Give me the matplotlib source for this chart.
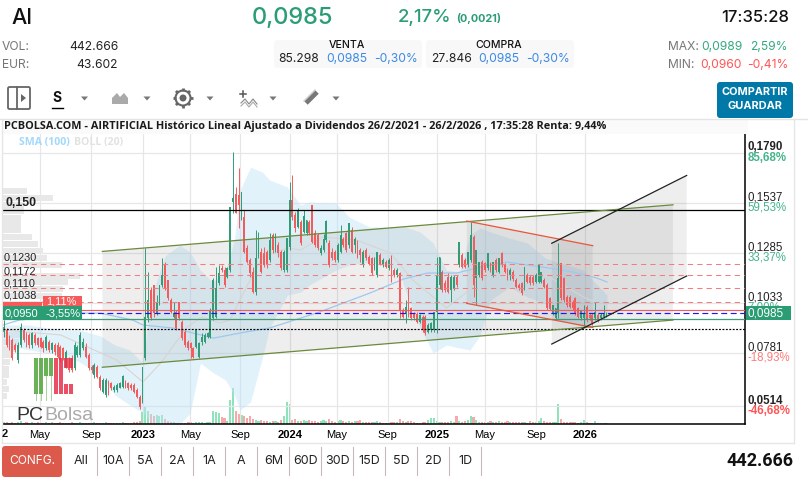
import numpy as np
import matplotlib
matplotlib.use("Agg")
import matplotlib.pyplot as plt
from matplotlib.patches import FancyBboxPatch, Rectangle, Polygon, Circle
from matplotlib.transforms import ScaledTranslation

# weekly candles, Jan 2022 -> Feb 2026
opens = [
    .0888,.0897,.0863,.0846,.0821,.0745,.0821,.0897,.0880,.0871,
    .0821,.0871,.0855,.0855,.0838,.0804,.0838,.0796,.0821,.0821,
    .0813,.0804,.0712,.0754,.0754,.0703,.0771,.0771,.0804,.0813,
    .0771,.0712,.0670,.0712,.0661,.0586,.0569,.0636,.0628,.0594,
    .0594,.0607,.0611,.0636,.0628,.0619,.0619,.0594,.0561,.0535,
    .0754,.0955,.1098,.1123,.0981,.1031,.1123,.1224,.1149,.1048,
    .0964,.0989,.1039,.0939,.0888,.0838,.0829,.0804,.0813,.0762,
    .0838,.0838,.0863,.0863,.0955,.0964,.1132,.1207,.1199,.1165,
    .1199,.1543,.1585,.1577,.1476,.1468,.1308,.1249,.1191,.1090,
    .1266,.1291,.1283,.1291,.1249,.1375,.1300,.1325,.1291,.1199,
    .1199,.1317,.1552,.1476,.1417,
    .1442,.1392,.1384,.1442,.1526,.1384,.1375,.1283,.1300,.1350,
    .1333,.1291,.1291,.1249,.1291,.1358,.1384,.1325,.1400,.1325,
    .1333,.1300,.1224,.1300,.1266,.1258,.1207,.1174,.1274,.1224,
    .1241,.1207,.1269,.1199,.1174,.1182,.0997,.0980,.1022,.1006,
    .0980,.0980,.0938,.0964,.0964,.0888,.0896,.0896,.0989,.1123,
    .1190,.1132,.1165,.1098,.1106,.1162,
    .1224,.1275,.1249,.1224,.1249,.1367,.1157,.1174,.1241,.1233,
    .1207,.1233,.1174,.1249,.1191,.1283,.1224,.1199,.1174,.1191,
    .1149,.1123,.1132,.1107,.1174,.1165,.1165,.1140,.1140,.1140,
    .1149,.1123,.1056,.0981,.0955,.0981,.1233,.1157,.1065,.1065,
    .1039,.1056,.1006,.0955,.0955,.1014,.0972,.0972,.0955,.0972,
    .0955,.0964,.0972,
]
highs = [
    .0947,.0905,.0871,.0855,.0829,.0838,.0930,.0905,.0888,.0880,
    .0888,.0880,.0863,.0863,.0846,.0871,.0846,.0838,.0829,.0838,
    .0821,.0813,.0796,.0762,.0771,.0838,.0821,.0888,.0855,.0829,
    .0779,.0720,.0729,.0720,.0670,.0653,.0653,.0645,.0636,.0619,
    .0628,.0636,.0670,.0645,.0636,.0628,.0628,.0603,.0569,.0712,
    .1308,.1191,.1115,.1123,.1073,.1123,.1258,.1241,.1149,.1056,
    .1039,.0998,.1039,.0947,.0897,.0846,.0838,.0813,.0897,.0838,
    .0880,.0880,.0888,.1006,.1157,.1216,.1224,.1224,.1216,.1216,
    .1518,.1795,.1619,.1715,.1594,.1501,.1325,.1258,.1216,.1401,
    .1392,.1308,.1317,.1300,.1384,.1384,.1384,.1342,.1300,.1300,
    .1359,.1644,.1678,.1493,.1510,
    .1450,.1501,.1451,.1450,.1526,.1400,.1384,.1325,.1383,.1450,
    .1350,.1308,.1300,.1333,.1426,.1367,.1392,.1434,.1417,.1367,
    .1350,.1308,.1300,.1308,.1274,.1266,.1266,.1291,.1283,.1258,
    .1249,.1258,.1274,.1207,.1207,.1190,.1006,.1048,.1115,.1014,
    .0989,.0989,.0980,.0972,.0972,.0930,.0938,.0989,.1266,.1266,
    .1199,.1148,.1182,.1174,.1174,.1174,
    .1342,.1283,.1258,.1291,.1443,.1375,.1300,.1241,.1249,.1241,
    .1283,.1241,.1241,.1258,.1258,.1291,.1233,.1207,.1207,.1199,
    .1157,.1132,.1140,.1216,.1182,.1174,.1174,.1182,.1224,.1191,
    .1157,.1132,.1065,.1023,.1006,.1333,.1233,.1165,.1073,.1073,
    .1048,.1065,.1014,.0997,.1023,.1023,.0981,.0981,.1039,.0981,
    .0981,.1023,.0989,
]
lows = [
    .0863,.0813,.0796,.0745,.0787,.0729,.0813,.0838,.0813,.0804,
    .0804,.0821,.0813,.0804,.0787,.0796,.0787,.0779,.0771,.0754,
    .0737,.0745,.0703,.0687,.0687,.0695,.0762,.0762,.0796,.0754,
    .0695,.0678,.0653,.0653,.0594,.0578,.0561,.0569,.0594,.0586,
    .0586,.0603,.0603,.0603,.0594,.0594,.0578,.0552,.0501,.0527,
    .0745,.0939,.0947,.0964,.0972,.1023,.1115,.1098,.1048,.0981,
    .0955,.0897,.0947,.0846,.0813,.0796,.0754,.0754,.0804,.0754,
    .0821,.0829,.0855,.0855,.0947,.0955,.1123,.1191,.1115,.1157,
    .1191,.1485,.1485,.1409,.1451,.1283,.1233,.1165,.1082,.1073,
    .1258,.1182,.1216,.1207,.1241,.1283,.1291,.1266,.1199,.1191,
    .1191,.1300,.1451,.1392,.1409,
    .1325,.1384,.1375,.1375,.1333,.1317,.1300,.1274,.1291,.1342,
    .1216,.1249,.1241,.1241,.1283,.1317,.1291,.1308,.1283,.1283,
    .1258,.1241,.1216,.1249,.1224,.1174,.1199,.1165,.1224,.1216,
    .1207,.1199,.1140,.1165,.1165,.0955,.0955,.0930,.0964,.0947,
    .0947,.0930,.0930,.0888,.0872,.0880,.0888,.0888,.0880,.1106,
    .1090,.1090,.1082,.1039,.1098,.1115,
    .1216,.1208,.1208,.1216,.1241,.1065,.1023,.1166,.1149,.1191,
    .1199,.1191,.1166,.1191,.1183,.1216,.1183,.1149,.1149,.1145,
    .1107,.1098,.1073,.1098,.1132,.1123,.1123,.1132,.1132,.1132,
    .1107,.0997,.0997,.0972,.0947,.0955,.1048,.1039,.1014,.1006,
    .0997,.0972,.0955,.0947,.0905,.0939,.0947,.0922,.0947,.0939,
    .0947,.0955,.0964,
]
closes = [
    .0913,.0821,.0804,.0754,.0796,.0821,.0913,.0846,.0821,.0821,
    .0880,.0829,.0821,.0813,.0804,.0863,.0796,.0829,.0787,.0762,
    .0745,.0754,.0787,.0695,.0695,.0821,.0813,.0871,.0838,.0762,
    .0703,.0695,.0720,.0661,.0603,.0645,.0645,.0577,.0603,.0611,
    .0619,.0628,.0665,.0611,.0603,.0603,.0586,.0561,.0510,.0712,
    .0964,.1048,.0955,.0981,.1039,.1123,.1174,.1107,.1056,.0989,
    .0981,.0905,.0955,.0855,.0821,.0804,.0804,.0762,.0897,.0829,
    .0863,.0871,.0880,.0998,.1149,.1107,.1182,.1199,.1123,.1207,
    .1518,.1560,.1485,.1527,.1594,.1291,.1241,.1182,.1090,.1258,
    .1317,.1191,.1224,.1224,.1350,.1300,.1333,.1283,.1207,.1291,
    .1359,.1552,.1468,.1409,.1496,
    .1333,.1470,.1451,.1384,.1342,.1325,.1308,.1308,.1358,.1445,
    .1224,.1258,.1249,.1325,.1375,.1325,.1300,.1434,.1291,.1358,
    .1266,.1274,.1291,.1258,.1232,.1182,.1258,.1291,.1232,.1249,
    .1216,.1249,.1182,.1174,.1199,.0997,.0963,.1014,.0972,.0955,
    .0955,.0938,.0972,.0896,.0880,.0922,.0930,.0989,.1174,.1266,
    .1098,.1098,.1090,.1165,.1165,.1123,
    .1342,.1216,.1216,.1291,.1375,.1123,.1300,.1241,.1157,.1199,
    .1283,.1199,.1241,.1199,.1258,.1224,.1191,.1157,.1199,.1152,
    .1115,.1107,.1081,.1216,.1140,.1132,.1132,.1174,.1224,.1191,
    .1115,.1006,.1001,.1023,.1006,.1157,.1056,.1048,.1023,.1014,
    .1006,.0981,.0964,.0997,.0980,.0947,.0955,.0930,.0989,.0947,
    .0972,.0981,.0985,
]
volumes = [
    2,2,1,2,1,2,3,1,2,1, 2,1,2,1,1,2,1,2,1,1,
    2,1,1,1,2,1,1,2,1,1, 1,1,2,1,1,1,2,1,1,1,
    1,1,2,1,1,1,2,2,3,12,
    18,13,10,8,9,8,9,5,3,2, 2,1,1,1,1,2,2,1,2,2,
    2,1,2,2,13,12,11,7,6,3, 24,36,13,10,9,8,6,8,5,4,
    3,4,3,3,2,3,3,2,4,8, 22,20,4,5,3,3,4,3,4,3,
    3,2,3,4,3,5,3,2,3,4, 3,2,3,2,3,3,4,2,2,2,
    2,2,3,2,1,1,1,2,2,2, 5,3,2,3,3,2,1,1,2,2,
    4,6,6,3,2,2,2,2,3,2, 8,3,2,3,4,8,7,4,2,2,
    2,2,3,2,2,3,2,2,3,2, 2,2,2,2,2,1,3,2,2,3,
    6,3,2,2,2,2,20,5,2,2, 2,2,2,1,2,4,2,1,1,3,
    1,1,1,1,
]

# bollinger (20) and sma (100), sampled off the chart
band_years = [2022.05,2022.23,2022.44,2022.57,2022.71,2022.81,2022.91,2022.99,2023.02,2023.06,
              2023.15,2023.25,2023.32,2023.39,2023.47,2023.56,2023.62,2023.66,2023.73,2023.81,
              2023.86,2023.98,2024.07,2024.13,2024.31,2024.40,2024.54,2024.74,2024.78,2024.88,
              2024.97,2025.06,2025.15,2025.22,2025.29,2025.36,2025.49,2025.61,2025.73,2025.81,
              2025.99,2026.15]
band_upper = [.0922,.0922,.0897,.0897,.0867,.0821,.0796,.0736,.0846,.1073,
              .1270,.1325,.1290,.1199,.1139,.1189,.1350,.1602,.1718,.1693,
              .1653,.1618,.1527,.1542,.1537,.1466,.1416,.1416,.1416,.1391,
              .1335,.1199,.1189,.1376,.1411,.1391,.1360,.1335,.1260,.1240,
              .1199,.1073]
band_lower = [.0821,.0796,.0771,.0736,.0670,.0569,.0519,.0484,.0468,.0423,
              .0423,.0423,.0478,.0730,.0685,.0645,.0569,.0494,.0534,.0756,
              .0907,.1073,.1088,.1124,.1199,.1224,.1240,.1199,.1098,.0912,
              .0781,.0821,.0806,.0796,.0872,.1048,.1114,.1063,.1033,.0947,
              .0912,.0962]
sma_years = [2022.05,2022.16,2022.30,2022.48,2022.71,2022.93,2023.00,2023.20,2023.48,2023.66,
             2023.86,2024.20,2024.54,2024.77,2024.93,2025.13,2025.29,2025.47,2025.61,2025.76,
             2025.92,2026.08,2026.15]
sma_values = [.0922,.0947,.0957,.0982,.0982,.0947,.0922,.0907,.0856,.0882,
              .0907,.0988,.1083,.1154,.1184,.1184,.1214,.1240,.1224,.1209,
              .1189,.1159,.1139]
mid_years = [2022.05,2022.44,2022.82,2023.00,2023.12,2023.20,2023.30,2023.40,2023.52,2023.59,
             2023.71,2023.81,2023.98,2024.07,2024.22,2024.45,2024.68,2024.83,2025.06,2025.19,
             2025.27,2025.38,2025.54,2025.76,2025.99,2026.15]
mid_values = [.0897,.0872,.0746,.0635,.0730,.0811,.0912,.0962,.0932,.0947,
              .1124,.1265,.1310,.1300,.1366,.1350,.1285,.1149,.1008,.1083,
              .1164,.1199,.1224,.1164,.1063,.1013]

# volume at price, left side of the chart
hist_prices = [.1598,.1563,.1528,.1495,.1460,.1430,.1400,.1365,.1330,.1295,.1260,.1225,.1170,.1140,.1105,
               .1070,.1030,.0870,.0835,.0800,.0770,.0735,.0700,.0670,.0635,.0600,.0565]
hist_widths = [.16,.34,.14,.14,.12,.12,.12,.20,.24,.27,.30,.40,.52,.44,.41,
               .40,.38,.14,.11,.08,.06,.05,.04,.04,.03,.04,.03]

# price levels
price_ticks = [.1790,.1537,.1285,.1033,.0781,.0514]
price_labels = ["0,1790","0,1537","0,1285","0,1033","0,0781","0,0514"]
pct_labels = ["85,68%","59,53%","33,37%","7,00%","-18,93%","-46,68%"]
dashed_levels = [.1230,.1172,.1110,.1038]
dashed_labels = ["0,1230","0,1172","0,1110","0,1038"]

tick_years = [2022.30,2022.65,2023.0,2023.32,2023.66,2024.0,2024.317,2024.66,2024.996,2025.32,2025.67,2026.0]
tick_labels = ["May","Sep","2023","May","Sep","2024","May","Sep","2025","May","Sep","2026"]

periods = ["All","10A","5A","2A","1A","A","6M","60D","30D","15D","5D","2D","1D"]

GREEN = "#2a9d74"
RED = "#f25c5c"
BLUE = "#3b8ae6"
FONT_UI = "Inter"
FONT_AXIS = "Liberation Sans"

W, H = 808, 483
fig = plt.figure(figsize=(W / 100, H / 100), dpi=100, facecolor="white")

# ---- chart
left, right, top, bottom = 3, 745, 133, 424
ax = fig.add_axes([left / W, 1 - bottom / H, (right - left) / W, (bottom - top) / H], zorder=1)
ax.set_xlim(2022.0496, 2027.087)
ax.set_ylim(.0423, .1890)
for s in ("left", "top"):
    ax.spines[s].set_visible(False)
for s in ("right", "bottom"):
    ax.spines[s].set_linewidth(1.1)
ax.set_axisbelow(True)
ax.grid(True, color="#e6e6e6", lw=.85)
ax.set_yticks(price_ticks)
ax.set_yticklabels([])
ax.set_xticks(tick_years)
ax.set_xticklabels(tick_labels, fontfamily=FONT_AXIS, fontsize=8)
month_shift = ScaledTranslation(2.5 / 100, 0, fig.dpi_scale_trans)
for lab in ax.get_xticklabels():
    if lab.get_text().startswith("20"):
        lab.set_fontweight("bold")
    else:
        lab.set_transform(lab.get_transform() + month_shift)
ax.tick_params(length=0, pad=4)

x = 2022.055 + np.arange(len(closes)) * 0.01921
opens = np.array(opens)
closes = np.array(closes)
up = closes >= opens

ax.barh(hist_prices, hist_widths, height=.0030, left=2022.0496, color="#e8e8e8", zorder=1)

ax.fill_between(band_years, band_lower, band_upper, color="#bfe3f8", alpha=.45, lw=0, zorder=1.2)


def shade(x0, x1, y0a, y0b, y1a, y1b):
    ax.add_patch(Polygon([(x0, y0a), (x1, y0b), (x1, y1b), (x0, y1a)], closed=True,
                         facecolor="#808080", alpha=.13, lw=0, zorder=1.5))


# olive channel, red channel, black channel
shade(2022.724, 2026.598, .1293, .1528, .0709, .0947)
shade(2025.198, 2026.053, .1446, .1322, .1031, .0910)
shade(2025.775, 2026.691, .1334, .1676, .0826, .1169)

ax.plot(mid_years, mid_values, color="#d9d4d0", lw=.8, zorder=1.8)
ax.plot(sma_years, sma_values, color="#9cc9ef", lw=.9, zorder=2.5)

# volume on its own scale
vax = ax.twinx()
vax.set_ylim(0, 291)
vax.set_yticks([])
vax.set_zorder(0.5)
for s in vax.spines.values():
    s.set_visible(False)
ax.set_zorder(1)
ax.patch.set_visible(False)
vax.patch.set_visible(False)
vax.bar(x, volumes, width=.0145, color=np.where(up, "#8fe3bb", "#f7a8a8"))

colors = np.where(up, "#329c78", RED)
ax.vlines(x, lows, highs, colors=colors, lw=.7, zorder=3)
ax.bar(x, np.abs(closes - opens), bottom=np.minimum(opens, closes), width=.0125, color=colors, zorder=3.1)

ax.axhline(.150, color="black", lw=.9, zorder=4)
for lv in dashed_levels:
    ax.axhline(lv, color="#f47c7c", lw=.75, dashes=(5, 4), zorder=3.5)
ax.axhline(.0996, color=RED, lw=.85, zorder=4)
ax.axhline(.0985, color="#1a1aee", lw=.85, dashes=(5, 3), zorder=4)
ax.axhline(.0950, color="#3f9a78", lw=.9, zorder=4)
ax.axhline(.0900, color="black", lw=.85, dashes=(1.6, 1.3), zorder=4)

ax.plot([2022.724, 2026.598], [.1293, .1528], color="#6a8a3c", lw=.9, zorder=4)
ax.plot([2022.724, 2026.598], [.0709, .0947], color="#6a8a3c", lw=.9, zorder=4)
ax.plot([2025.198, 2026.053], [.1446, .1322], color="#e8553a", lw=.9, zorder=4)
ax.plot([2025.198, 2026.053], [.1031, .0910], color="#e8553a", lw=.9, zorder=4)
ax.plot([2025.775, 2026.691], [.1334, .1676], color="#222222", lw=.9, zorder=4.1)
ax.plot([2025.775, 2026.691], [.0826, .1169], color="#222222", lw=.9, zorder=4.1)

# right hand price labels
trans = ax.get_yaxis_transform()
for i, (p, lab, pct) in enumerate(zip(price_ticks, price_labels, pct_labels)):
    bold = i in (0, 5)
    ax.text(1.003, p + .0027, lab, transform=trans, fontfamily=FONT_AXIS, fontsize=8.3, color="#222222",
            fontweight="bold" if bold else "normal", va="center", clip_on=False)
    col = "#44b48c" if not pct.startswith("-") else "#ff7a7a"
    if i == 5:
        col = "#ff5555"
    ax.text(1.003, p - .0024, pct, transform=trans, fontfamily=FONT_AXIS, fontsize=8.3, color=col,
            fontweight="bold" if bold else "normal", va="center", clip_on=False)

# ---- page furniture, pixel coordinates
ui = fig.add_axes([0, 0, 1, 1], zorder=2)
ui.set_xlim(0, W)
ui.set_ylim(H, 0)
ui.axis("off")
ui.patch.set_visible(False)


def txt(px, py, s, size, color="#111111", ha="left", weight="normal", family=FONT_UI, **kw):
    ui.text(px, py, s, fontsize=size, color=color, ha=ha, va="center", fontweight=weight, fontfamily=family, **kw)


def rbox(x0, y0, w, h, color, r=4, z=1, **kw):
    ui.add_patch(FancyBboxPatch((x0, y0), w, h, boxstyle=f"round,pad=0,rounding_size={r}",
                                facecolor=color, edgecolor="none", zorder=z, **kw))


# frame and title strip
ui.plot([2, 2], [120, 443], color="#e6e6e6", lw=1)
ui.plot([794, 794], [120, 443], color="#e6e6e6", lw=1)
ui.plot([2, 794], [443, 443], color="#e6e6e6", lw=1)
ui.plot([0, 808], [119, 119], color="#e4e4e4", lw=1)
ui.add_patch(Rectangle((3, 120), 745, 14, facecolor="#fafafa", edgecolor="none", zorder=1))
txt(4, 127, "PCBOLSA.COM - AIRTIFICIAL Histórico Lineal Ajustado a Dividendos 26/2/2021 - 26/2/2026 , 17:35:28 Renta: 9,44%",
    7.8, weight="bold", family="Open Sans", color="#1a1a1a", zorder=2)
txt(19, 143, "SMA (100)", 7.6, color="#a2d8fc", weight="bold", family="Open Sans")
txt(74, 143, "BOLL (20)", 7.6, color="#e2e2e2", weight="bold", family="Open Sans")

# header
txt(11, 18, "AI", 15.5, weight="medium")
txt(252, 18, "0,0985", 17, color=GREEN, weight="medium")
txt(398, 18, "2,17%", 13.3, color=GREEN, weight="medium")
txt(456, 18, "(0,0021)", 7.8, color=GREEN, weight="bold")
txt(789, 18, "17:35:28", 12, ha="right", weight="medium")
txt(2, 47, "VOL:", 8.7, color="#777777")
txt(2, 65, "EUR:", 8.7, color="#777777")
txt(118, 47, "442.666", 8.7, ha="right", color="#222222")
txt(118, 65, "43.602", 8.7, ha="right", color="#222222")
for x0, head, size_txt, cx in [(274, "VENTA", "85.298", 347), (426, "COMPRA", "27.846", 499)]:
    rbox(x0, 40, 148, 28, "#f8f8f8", r=4)
    txt(cx, 45, head, 7.6, ha="center", weight="medium", zorder=3)
    txt(cx - 48, 59, size_txt, 8.7, ha="center", color="#222222", zorder=3)
    txt(cx, 59, "0,0985", 8.7, ha="center", color=BLUE, zorder=3)
    txt(cx + 49, 59, "-0,30%", 8.7, ha="center", color=BLUE, zorder=3)
txt(668, 47, "MAX:", 8.7, color="#777777")
txt(668, 65, "MIN:", 8.7, color="#777777")
txt(742, 47, "0,0989", 8.7, ha="right", color="#35a97f")
txt(788, 47, "2,59%", 8.7, ha="right", color="#35a97f")
txt(742, 65, "0,0960", 8.7, ha="right", color="#ff5555")
txt(788, 65, "-0,41%", 8.7, ha="right", color="#ff5555")
rbox(717, 82, 76, 36, "#0079a8", r=3)
txt(755, 92, "COMPARTIR", 7.9, color="white", ha="center", weight="bold", zorder=3)
txt(755, 106, "GUARDAR", 7.9, color="white", ha="center", weight="bold", zorder=3)

# toolbar icons
ui.add_patch(FancyBboxPatch((8, 87), 22, 22, boxstyle="round,pad=0,rounding_size=1.5", facecolor="none",
                            edgecolor="#666666", lw=1.3))
ui.plot([16.5, 16.5], [87, 109], color="#666666", lw=1.3)
ui.add_patch(Polygon([(21, 94), (21, 102), (26, 98)], closed=True, facecolor="#666666", edgecolor="none"))
txt(57, 98, "S", 10, ha="center", weight="bold")
ui.plot([52, 63], [108, 108], color="black", lw=1)
for tx in (84.5, 147, 210, 273, 336):
    ui.add_patch(Polygon([(tx - 3.5, 96.5), (tx + 3.5, 96.5), (tx, 100.5)], closed=True, facecolor="#777777",
                         edgecolor="none"))
ui.add_patch(Polygon([(112, 104), (112, 98), (117, 93), (120, 97), (124, 93), (128, 98), (128, 104)], closed=True,
                     facecolor="#aaaaaa", edgecolor="none"))
ui.add_patch(Circle((183, 98), 7.5, facecolor="none", edgecolor="#666666", lw=1.5))
ui.add_patch(Circle((183, 98), 3.5, facecolor="#666666", edgecolor="none"))
for a in np.arange(0, 360, 45):
    c, s = np.cos(np.radians(a)), np.sin(np.radians(a))
    ui.plot([183 + 7 * c, 183 + 10 * c], [98 + 7 * s, 98 + 10 * s], color="#666666", lw=2, solid_capstyle="butt")
ui.plot([243, 243], [91, 97], color="#555555", lw=1.1)
ui.plot([240, 246], [94, 94], color="#555555", lw=1.1)
ui.plot([241, 245, 249, 253, 257], [103, 99, 104, 99, 104], color="#888888", lw=.8)
ui.plot([241, 245, 249, 253, 257], [106, 102, 107, 102, 107], color="#aaaaaa", lw=.8)
ui.plot([306, 317], [103, 92], color="#777777", lw=3.5, solid_capstyle="butt")
ui.plot([304, 315], [101, 90], color="#cccccc", lw=1)

# labels on the chart
for lab, py in zip(dashed_labels, (258, 271, 283, 296)):
    txt(4, py, lab, 7.8, family=FONT_AXIS, color="#222222")
txt(5, 203, "0,150", 8.8, family=FONT_AXIS, weight="bold", color="#222222")
ui.add_patch(Rectangle((43, 296), 39, 12, facecolor="#f65a5a", edgecolor="none", zorder=2))
ui.add_patch(Rectangle((3, 302), 39, 6, facecolor="#f65a5a", edgecolor="none", zorder=2))
txt(46, 302, "1,11%", 7.8, family=FONT_AXIS, color="white", zorder=2.1)
ui.add_patch(Rectangle((3, 306), 79, 13.5, facecolor=GREEN, edgecolor="none", zorder=3))
txt(5, 313, "0,0950", 8, family=FONT_AXIS, color="white", zorder=3.1)
txt(45, 313, "-3,55%", 8, family=FONT_AXIS, color="white", zorder=3.1)
ui.add_patch(Rectangle((746, 306), 45, 14, facecolor=GREEN, edgecolor="none", zorder=3))
txt(747, 313.2, "0,0985", 8.5, family=FONT_AXIS, color="white", zorder=3.1)

# logo
for lx, h in [(34, 36), (39, 36), (44, 18), (49, 18)]:
    ui.add_patch(Rectangle((lx, 358), 4, h, facecolor="#4fa53a", alpha=.85, edgecolor="none", zorder=3))
    ui.plot([lx + 2, lx + 2], [358 + h, 400], color="#4fa53a", alpha=.5, lw=.7, zorder=3)
for lx, y0, h in [(54, 358, 36), (59, 358, 36), (64, 358, 10), (64, 384, 10), (69, 358, 10), (69, 384, 10)]:
    ui.add_patch(Rectangle((lx, y0), 4, h, facecolor="#e8304a", alpha=.85, edgecolor="none", zorder=3))
txt(16, 415, "PC", 14, color="#333333", family="Liberation Sans", zorder=3)
txt(44.5, 415, "Bolsa", 14, color="#aaaaaa", family="Liberation Sans", zorder=3)
txt(2, 434, "2", 8, family=FONT_AXIS, weight="bold", ha="left")

# footer buttons
rbox(2, 446, 60, 31, "#dc5a4b", r=3)
txt(32, 461, "CONFG.", 8.6, color="white", ha="center", zorder=3)
for i, per in enumerate(periods):
    px = 81.4 + i * 32
    txt(px, 461, per, 9, ha="center", color="#222222")
    ui.plot([px + 16, px + 16], [447, 475], color="#c8b8bc", lw=.8)
txt(793, 461, "442.666", 13, ha="right", weight="bold", family="Roboto")

fig.savefig("out.png", dpi=100, facecolor="white")
